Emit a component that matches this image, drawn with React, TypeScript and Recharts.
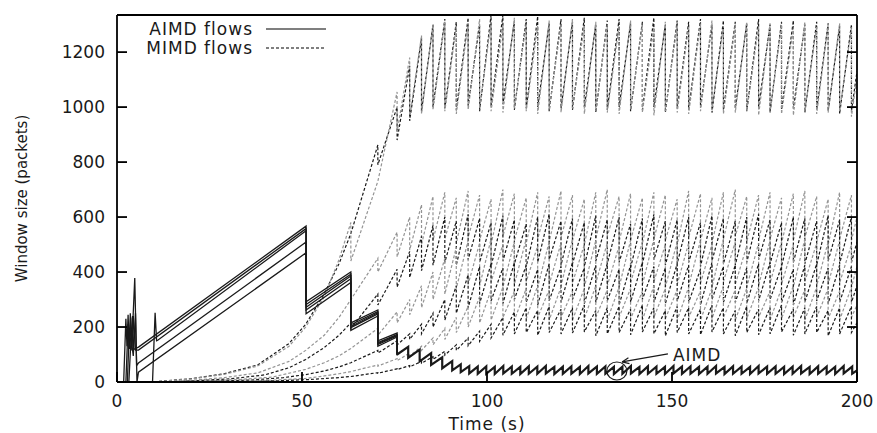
import React from "react";
import { LineChart, Line, XAxis, YAxis, Legend, ReferenceDot, ReferenceLine } from "recharts";

type Pair = [number, number];
type Pt = { t: number; w: number };

const FONT = "'DejaVu Sans', sans-serif";
const INK = "#1a1a1a";
const GRAY = "#949494";

const xTicks = [0, 50, 100, 150, 200];
const yTicks = [0, 200, 400, 600, 800, 1000, 1200];
const legendNames = ["AIMD flows", "MIMD flows"];

// AIMD flows: [time (s), window (packets)]
const aimd1: Pair[] = [[1.8, 0], [2.4, 230], [2.7, 130], [3.0, 245], [3.3, 120], [3.6, 250], [3.9, 125], [4.2, 240], [4.5, 118], [5.8, 127], [51.1, 567], [51.1, 292], [63.2, 400], [63.2, 215], [70.5, 262], [70.5, 150], [75.7, 178], [75.7, 104]];
const aimd2: Pair[] = [[2.4, 0], [3.0, 210], [3.3, 120], [3.7, 235], [4.0, 115], [4.4, 240], [5.0, 116], [5.8, 116], [51.1, 558], [51.1, 282], [63.2, 392], [63.2, 208], [70.5, 256], [70.5, 143], [75.7, 173], [75.7, 101]];
const aimd3: Pair[] = [[2.8, 0], [3.3, 180], [4.0, 130], [4.8, 378], [5.3, 60], [5.8, 69], [51.1, 509], [51.1, 262], [63.2, 376], [63.2, 198], [70.5, 248], [70.5, 136], [75.7, 168], [75.7, 98]];
const aimd4: Pair[] = [[3.2, 0], [3.8, 160], [4.4, 95], [5.0, 250], [5.4, 0], [5.8, 36], [51.1, 470], [51.1, 248], [63.2, 362], [63.2, 188], [70.5, 240], [70.5, 130], [75.7, 164], [75.7, 96]];
const aimd5: Pair[] = [[9.6, 0], [10.3, 252], [10.7, 150], [11.0, 152], [51.1, 550], [51.1, 272], [63.2, 386], [63.2, 202], [70.5, 252], [70.5, 140], [75.7, 170], [75.7, 99]];

// merged AIMD sawtooth after 75 s
const aimdTailStart: Pair = [75.7, 100];
const aimdTailTimes = [
  78.7, 81.8, 84.9, 87.9, 90.6, 92.9, 95.2, 97.5, 99.8, 102.1,
  104.4, 106.7, 109.0, 111.3, 113.6, 115.9, 118.2, 120.5, 122.8, 125.1,
  127.4, 129.7, 132.0, 134.3, 136.6, 138.9, 141.2, 143.5, 145.8, 148.1,
  150.4, 152.7, 155.0, 157.3, 159.6, 161.9, 164.2, 166.5, 168.8, 171.1,
  173.4, 175.7, 178.0, 180.3, 182.6, 184.9, 187.2, 189.5, 191.8, 194.1,
  196.4, 198.7,
];
const aimdTailPeaks = [
  128, 118, 105, 90, 76, 64, 58, 56, 57, 55,
  58, 56, 55, 57, 56, 58, 55, 56, 57, 55,
  58, 56, 57, 55, 56, 58, 55, 57, 56, 55,
  58, 56, 57, 55, 56, 58, 55, 57, 56, 55,
  58, 56, 57, 55, 56, 58, 55, 57, 56, 55,
  58, 56,
];
const aimdTailTroughs = [
  88, 75, 62, 50, 42, 36, 31, 30, 30, 29,
  31, 30, 29, 30, 30, 31, 29, 30, 30, 29,
  31, 30, 30, 29, 30, 31, 29, 30, 30, 29,
  31, 30, 30, 29, 30, 31, 29, 30, 30, 29,
  31, 30, 30, 29, 30, 31, 29, 30, 30, 29,
  31, 30,
];
const aimdTailEnd: Pair = [200, 42];

// MIMD loss events (s)
const lossTimes = [
  63.2, 70.5, 75.7, 79.1, 82.3, 85.4, 88.6, 91.7, 94.9, 98.0,
  101.1, 104.3, 107.4, 110.6, 113.7, 116.8, 120.0, 123.1, 126.3, 129.4,
  132.5, 135.7, 138.8, 142.0, 145.1, 148.2, 151.4, 154.5, 157.7, 160.8,
  163.9, 167.1, 170.2, 173.4, 176.5, 179.6, 182.8, 185.9, 189.1, 192.2,
  195.3, 198.5,
];

const h1Ramp: Pair[] = [[10, 1], [20, 12], [29, 30], [38, 62], [46.5, 140], [51, 210], [56, 320], [60, 430]];
const h1Peaks = [
  540, 862, 1000, 1150, 1250, 1300, 1320, 1310, 1325, 1300,
  1335, 1335, 1315, 1320, 1330, 1305, 1320, 1310, 1325, 1300,
  1315, 1320, 1305, 1310, 1325, 1300, 1315, 1310, 1320, 1300,
  1315, 1310, 1305, 1320, 1300, 1310, 1315, 1300, 1310, 1305,
  1295, 1300,
];
const h1Troughs = [
  540, 790, 880, 950, 985, 1000, 995, 990, 1005, 985,
  1000, 1010, 990, 995, 1000, 985, 995, 990, 1000, 980,
  990, 1000, 985, 990, 1000, 980, 995, 990, 1000, 980,
  990, 995, 985, 1000, 980, 990, 995, 980, 990, 985,
  975, 985,
];

const h2Ramp: Pair[] = [[10, 1], [20, 11], [29, 28], [38, 58], [46.5, 130], [51, 200], [56, 310], [60, 445]];
const h2Peaks = [
  580, 730, 1055, 1180, 1260, 1300, 1310, 1295, 1305, 1320,
  1310, 1300, 1325, 1305, 1295, 1315, 1300, 1320, 1295, 1310,
  1300, 1295, 1315, 1300, 1290, 1310, 1300, 1295, 1305, 1315,
  1295, 1300, 1310, 1295, 1305, 1300, 1290, 1310, 1295, 1300,
  1305, 1290,
];
const h2Troughs = [
  440, 730, 910, 960, 975, 990, 985, 975, 990, 995,
  985, 980, 995, 985, 975, 990, 980, 995, 975, 985,
  980, 975, 990, 980, 970, 985, 980, 975, 985, 990,
  975, 980, 985, 970, 980, 975, 970, 985, 975, 980,
  985, 965,
];

const l1Ramp: Pair[] = [[10, 0], [20, 6], [29, 16], [38, 33], [46.5, 75], [51, 115], [56, 170], [60, 235]];
const l1Peaks = [
  300, 450, 545, 600, 645, 675, 690, 670, 695, 680,
  665, 700, 685, 670, 690, 675, 695, 680, 665, 690,
  700, 675, 685, 670, 690, 680, 665, 695, 685, 670,
  690, 700, 675, 680, 690, 670, 685, 695, 675, 665,
  690, 680,
];
const l1Troughs = [
  300, 400, 455, 480, 500, 515, 520, 505, 525, 515,
  500, 530, 515, 505, 520, 510, 525, 515, 500, 520,
  530, 510, 515, 505, 520, 515, 500, 525, 515, 505,
  520, 530, 510, 515, 520, 505, 515, 525, 510, 500,
  520, 515,
];

const l2Ramp: Pair[] = [[12, 0], [22, 5], [31, 12], [40, 26], [46.5, 52], [51, 82], [56, 125], [60, 170]];
const l2Peaks = [
  215, 320, 410, 475, 530, 570, 600, 585, 610, 595,
  580, 605, 590, 575, 600, 610, 585, 595, 580, 605,
  590, 600, 575, 595, 610, 585, 590, 600, 580, 605,
  595, 585, 600, 610, 590, 580, 600, 595, 585, 605,
  590, 600,
];
const l2Troughs = [
  195, 280, 345, 380, 405, 425, 435, 425, 445, 435,
  420, 440, 430, 420, 435, 445, 425, 430, 420, 440,
  430, 435, 415, 430, 445, 425, 430, 435, 420, 440,
  430, 425, 435, 445, 430, 420, 435, 430, 425, 440,
  430, 435,
];

const l3Ramp: Pair[] = [[14, 0], [24, 4], [33, 9], [42, 18], [51, 46], [56, 70], [60, 95]];
const l3Peaks = [
  122, 195, 255, 300, 350, 400, 450, 490, 515, 505,
  520, 500, 510, 520, 495, 510, 505, 520, 500, 515,
  505, 495, 515, 510, 520, 500, 510, 505, 515, 500,
  520, 510, 495, 505, 515, 510, 500, 520, 505, 510,
  515, 500,
];
const l3Troughs = [
  122, 170, 215, 245, 270, 300, 320, 340, 355, 350,
  365, 345, 355, 365, 345, 355, 350, 360, 345, 360,
  350, 345, 360, 355, 365, 345, 355, 350, 360, 345,
  365, 355, 345, 350, 360, 355, 345, 365, 350, 355,
  360, 345,
];

const l4Ramp: Pair[] = [[16, 0], [26, 3], [36, 7], [45, 16], [51, 27], [56, 40], [60, 55]];
const l4Peaks = [
  70, 115, 150, 175, 210, 250, 300, 350, 390, 420,
  430, 415, 435, 425, 410, 430, 420, 435, 415, 425,
  430, 410, 425, 435, 420, 415, 430, 425, 410, 435,
  420, 425, 415, 430, 435, 420, 410, 425, 430, 415,
  425, 420,
];
const l4Troughs = [
  70, 105, 135, 155, 175, 200, 225, 250, 270, 285,
  295, 285, 300, 290, 280, 295, 290, 300, 285, 290,
  295, 280, 290, 300, 290, 285, 295, 290, 280, 300,
  290, 290, 285, 295, 300, 290, 280, 290, 295, 285,
  290, 290,
];

const l5Ramp: Pair[] = [[18, 0], [30, 2], [40, 5], [51, 13], [56, 22], [60, 30]];
const l5Peaks = [
  38, 62, 85, 105, 130, 160, 195, 235, 275, 310,
  335, 345, 330, 340, 350, 335, 345, 330, 340, 350,
  335, 345, 340, 330, 350, 340, 335, 345, 330, 340,
  350, 335, 340, 345, 330, 340, 350, 335, 345, 340,
  330, 345,
];
const l5Troughs = [
  38, 58, 78, 95, 115, 135, 155, 180, 200, 215,
  225, 235, 225, 230, 235, 225, 235, 225, 230, 235,
  225, 235, 230, 225, 235, 230, 225, 235, 225, 230,
  235, 225, 230, 235, 225, 230, 235, 225, 235, 230,
  225, 235,
];

const l6Ramp: Pair[] = [[20, 0], [35, 2], [45, 5], [52, 9], [60, 16]];
const l6Peaks = [
  20, 34, 48, 60, 75, 92, 112, 135, 160, 185,
  210, 235, 255, 270, 260, 275, 265, 270, 280, 260,
  270, 275, 265, 280, 270, 260, 275, 270, 265, 280,
  270, 260, 275, 265, 270, 280, 265, 270, 275, 260,
  270, 275,
];
const l6Troughs = [
  20, 32, 45, 55, 68, 82, 98, 115, 132, 148,
  160, 170, 175, 180, 170, 180, 175, 178, 182, 168,
  175, 180, 172, 182, 175, 168, 180, 175, 172, 182,
  175, 168, 180, 172, 175, 182, 170, 175, 180, 168,
  175, 180,
];

const mimdEnds: Pair[] = [[200, 1130], [200, 1110], [200, 600], [200, 510], [200, 420], [200, 350], [200, 280], [200, 215]];

const toPts = (pairs: Pair[]): Pt[] => pairs.map(([t, w]) => ({ t, w }));

function sawtooth(start: Pair[], times: number[], peaks: number[], troughs: number[], end: Pair): Pt[] {
  const pts = toPts(start);
  times.forEach((t, i) => {
    pts.push({ t, w: peaks[i] });
    if (troughs[i] !== peaks[i]) pts.push({ t, w: troughs[i] });
  });
  pts.push({ t: end[0], w: end[1] });
  return pts;
}

const mimdFlows = [
  { key: "h1", color: INK, data: sawtooth(h1Ramp, lossTimes, h1Peaks, h1Troughs, mimdEnds[0]) },
  { key: "h2", color: GRAY, data: sawtooth(h2Ramp, lossTimes, h2Peaks, h2Troughs, mimdEnds[1]) },
  { key: "l1", color: GRAY, data: sawtooth(l1Ramp, lossTimes, l1Peaks, l1Troughs, mimdEnds[2]) },
  { key: "l2", color: INK, data: sawtooth(l2Ramp, lossTimes, l2Peaks, l2Troughs, mimdEnds[3]) },
  { key: "l3", color: GRAY, data: sawtooth(l3Ramp, lossTimes, l3Peaks, l3Troughs, mimdEnds[4]) },
  { key: "l4", color: INK, data: sawtooth(l4Ramp, lossTimes, l4Peaks, l4Troughs, mimdEnds[5]) },
  { key: "l5", color: GRAY, data: sawtooth(l5Ramp, lossTimes, l5Peaks, l5Troughs, mimdEnds[6]) },
  { key: "l6", color: INK, data: sawtooth(l6Ramp, lossTimes, l6Peaks, l6Troughs, mimdEnds[7]) },
];

const aimdFlows = [aimd1, aimd2, aimd3, aimd4, aimd5].map(toPts);
const aimdTail = sawtooth([aimdTailStart], aimdTailTimes, aimdTailPeaks, aimdTailTroughs, aimdTailEnd);

const DASH = "3 2";
const TICK_LEN = 10;
const border = { stroke: "#000", strokeWidth: 1.8 };
const labelStyle = { fill: INK, fontSize: 17, fontFamily: FONT };

// gnuplot-style ticks: marks point into the plot box
const BottomTick = ({ x, y, payload }: any) => (
  <g>
    <path d={`M${x},${y}V${y - TICK_LEN}`} stroke="#000" strokeWidth={1.8} fill="none" />
    <text x={x} y={y + 19} textAnchor="middle" dominantBaseline="central" {...labelStyle}>
      {payload.value}
    </text>
  </g>
);
const LeftTick = ({ x, y, payload }: any) => (
  <g>
    <path d={`M${x},${y}H${x + TICK_LEN}`} stroke="#000" strokeWidth={1.8} fill="none" />
    <text x={x - 12} y={y} textAnchor="end" dominantBaseline="central" {...labelStyle}>
      {payload.value}
    </text>
  </g>
);
const TopTick = ({ x, y }: any) => <path d={`M${x},${y}V${y + TICK_LEN}`} stroke="#000" strokeWidth={1.8} fill="none" />;
const RightTick = ({ x, y }: any) => <path d={`M${x},${y}H${x - TICK_LEN}`} stroke="#000" strokeWidth={1.8} fill="none" />;

function LegendBox({ payload }: any) {
  const items = legendNames
    .map((n) => (payload || []).find((e: any) => e.value === n))
    .filter(Boolean);
  return (
    <div style={{ fontFamily: FONT, fontSize: 17, letterSpacing: 1, color: INK }}>
      {items.map((e: any) => (
        <div key={e.value} style={{ display: "flex", alignItems: "center", height: 18.5 }}>
          <span style={{ width: 123, textAlign: "right", whiteSpace: "nowrap" }}>{e.value}</span>
          <svg width={74} height={10}>
            <line x1={13} x2={73} y1={5} y2={5} stroke="#555" strokeWidth={1.3} strokeDasharray={e.payload?.strokeDasharray} />
          </svg>
        </div>
      ))}
    </div>
  );
}

const XTitle = (p: any) => {
  const vb = p.viewBox;
  return (
    <text x={vb.x + vb.width / 2} y={vb.y + 48} textAnchor="middle" fill={INK} fontSize={17} fontFamily={FONT} letterSpacing={1}>
      Time (s)
    </text>
  );
};

const YTitle = (p: any) => {
  const vb = p.viewBox;
  const cy = vb.y + vb.height / 2;
  return (
    <text x={22} y={cy} transform={`rotate(-90 22 ${cy})`} textAnchor="middle" dominantBaseline="central" fill={INK} fontSize={15} fontFamily={FONT}>
      Window size (packets)
    </text>
  );
};

const Arrow = (p: any) => {
  const { x1, y1, x2, y2 } = p;
  const a = Math.atan2(y2 - y1, x2 - x1);
  const hx = x2 - 7 * Math.cos(a);
  const hy = y2 - 7 * Math.sin(a);
  const nx = -Math.sin(a) * 3;
  const ny = Math.cos(a) * 3;
  return (
    <g>
      <line x1={x1} y1={y1} x2={x2} y2={y2} stroke={INK} strokeWidth={1.2} />
      <path d={`M${x2},${y2}L${hx + nx},${hy + ny}M${x2},${y2}L${hx - nx},${hy - ny}`} stroke={INK} strokeWidth={1.2} fill="none" />
    </g>
  );
};

export default function App() {
  return (
    <div style={{ position: "absolute", left: 0, top: 0, background: "#fff" }}>
      <LineChart width={877} height={433} margin={{ top: 0, right: 0, bottom: 0, left: 0 }}>
        <XAxis
          dataKey="t"
          type="number"
          domain={[0, 200]}
          ticks={xTicks}
          height={51}
          allowDataOverflow
          tick={BottomTick}
          tickSize={0}
          tickMargin={0}
          tickLine={false}
          axisLine={border}
          label={{ content: XTitle }}
        />
        <XAxis
          xAxisId="top"
          orientation="top"
          type="number"
          domain={[0, 200]}
          ticks={xTicks}
          height={15}
          allowDataOverflow
          tick={TopTick}
          tickSize={0}
          tickMargin={0}
          tickLine={false}
          axisLine={border}
        />
        <YAxis
          type="number"
          domain={[0, 1335]}
          ticks={yTicks}
          width={117}
          allowDataOverflow
          tick={LeftTick}
          tickSize={0}
          tickMargin={0}
          tickLine={false}
          axisLine={border}
          label={{ content: YTitle }}
        />
        <YAxis
          yAxisId="right"
          orientation="right"
          type="number"
          domain={[0, 1335]}
          ticks={yTicks}
          width={20}
          allowDataOverflow
          tick={RightTick}
          tickSize={0}
          tickMargin={0}
          tickLine={false}
          axisLine={border}
        />
        {mimdFlows.map((f) => (
          <Line
            key={f.key}
            data={f.data}
            dataKey="w"
            type="linear"
            name="MIMD flows"
            stroke={f.color}
            strokeWidth={1.2}
            strokeDasharray={DASH}
            dot={false}
            activeDot={false}
            isAnimationActive={false}
          />
        ))}
        {aimdFlows.map((d, i) => (
          <Line
            key={`a${i}`}
            data={d}
            dataKey="w"
            type="linear"
            name="AIMD flows"
            stroke={INK}
            strokeWidth={1.3}
            dot={false}
            activeDot={false}
            isAnimationActive={false}
          />
        ))}
        <Line
          data={aimdTail}
          dataKey="w"
          type="linear"
          name="AIMD flows"
          stroke={INK}
          strokeWidth={2.2}
          dot={false}
          activeDot={false}
          isAnimationActive={false}
        />
        <ReferenceDot
          x={135.1}
          y={40}
          r={10}
          shape={(p: any) => <ellipse cx={p.cx} cy={p.cy} rx={10} ry={9} fill="none" stroke={INK} strokeWidth={1.2} />}
        />
        <ReferenceLine segment={[{ x: 148.9, y: 102 }, { x: 136.5, y: 73 }]} shape={Arrow} />
        <ReferenceDot
          x={156.8}
          y={97}
          r={1}
          fill="none"
          stroke="none"
          label={{ value: "AIMD", position: "center", fill: INK, fontSize: 17, fontFamily: FONT, letterSpacing: 1 }}
        />
        <Legend
          content={LegendBox}
          layout="horizontal"
          verticalAlign="middle"
          align="center"
          wrapperStyle={{ left: 130, top: 20, width: 220, height: 40 }}
        />
      </LineChart>
    </div>
  );
}
